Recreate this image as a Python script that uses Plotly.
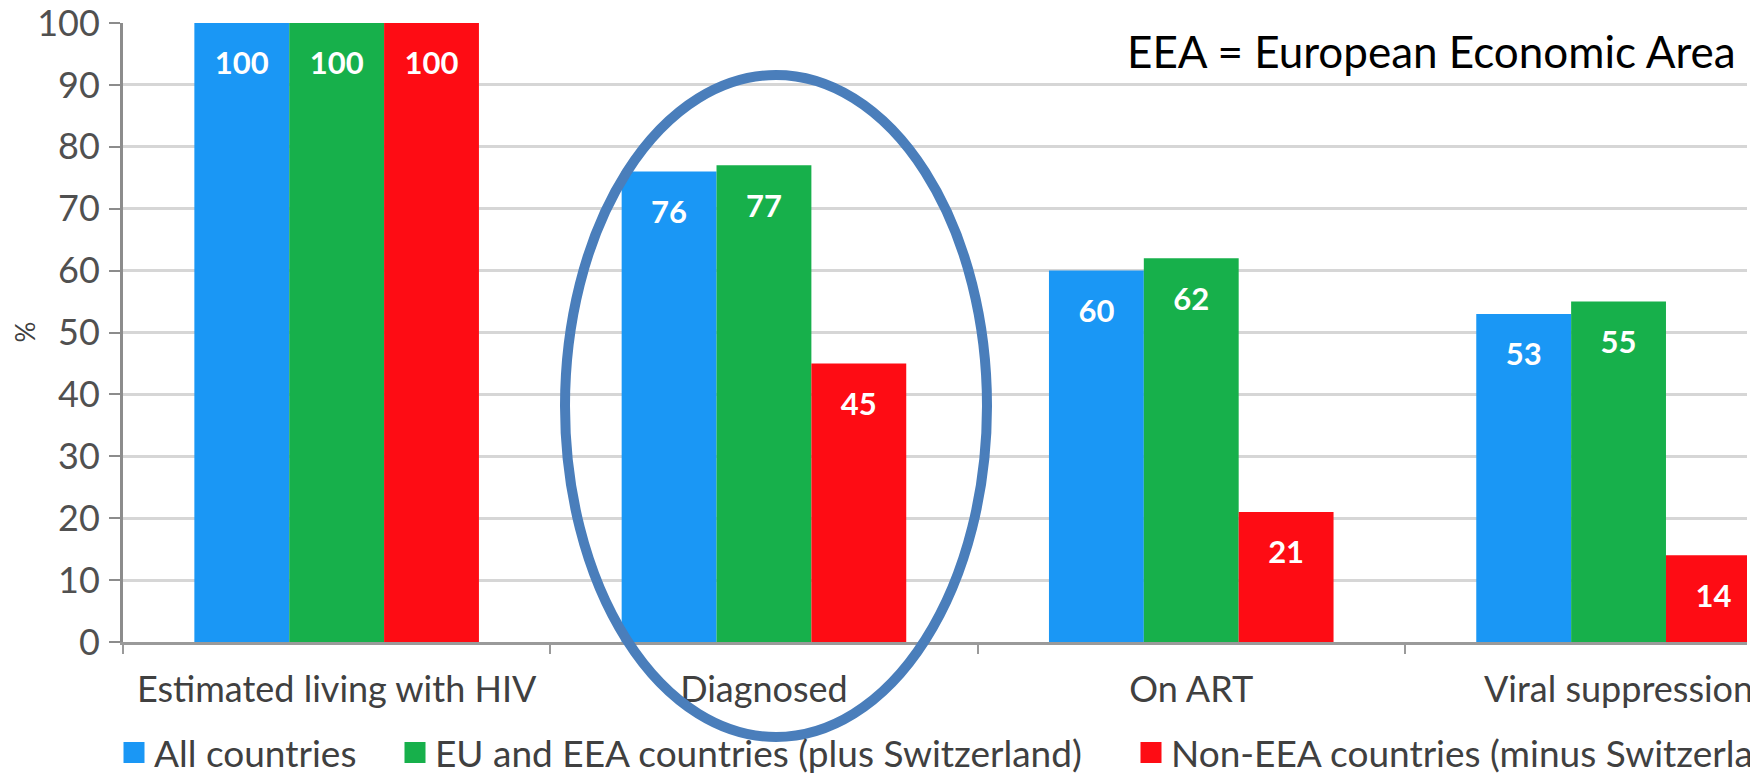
import plotly.graph_objects as go

# ---- data ----
categories = ["Estimated living with HIV", "Diagnosed", "On ART", "Viral suppression"]
all_countries = [100, 76, 60, 53]
eu_eea_countries = [100, 77, 62, 55]
non_eea_countries = [100, 45, 21, 14]
series_names = ["All countries",
                "EU and EEA countries (plus Switzerland)",
                "Non-EEA countries (minus Switzerland)"]
series_values = [all_countries, eu_eea_countries, non_eea_countries]
y_tick_values = [0, 10, 20, 30, 40, 50, 60, 70, 80, 90, 100]
note_text = "EEA = European Economic Area"
axis_title = "%"

# ---- style / geometry (window pixels; page body has an 8px margin) ----
colors = ["#1A97F5", "#17B04B", "#FE0C14"]
FONT = "Lato"
OFF = 8
W, H = 1758, 773
L = 123 - OFF
T = 23 - OFF
B = H - (642 - OFF)
R = W - (1747 - OFF)
PW, PH = W - L - R, H - T - B
STEP = 427.3  # px per category band


def px_x(p):  # window x -> paper
    return (p - OFF - L) / PW


def px_y(p):  # window y -> paper
    return (H - B - (p - OFF)) / PH


fig = go.Figure()
legend_ids = ["legend", "legend2", "legend3"]
for name, vals, col, lg in zip(series_names, series_values, colors, legend_ids):
    fig.add_trace(go.Bar(
        x=categories, y=vals, name=name, showlegend=False,
        marker=dict(color=col, line=dict(width=0)),
        text=vals,
        texttemplate="<span style='font-size:8px'>\u00a0</span><br><b>%{text}</b>",
        textposition="inside", insidetextanchor="end", textangle=0,
        constraintext="none",
        insidetextfont=dict(family=FONT, size=31, color="white"),
    ))
    # legend entry (square swatch)
    fig.add_trace(go.Scatter(
        x=[None], y=[None], mode="markers", name=name, legend=lg,
        marker=dict(symbol="square", size=16, color=col,
                    line=dict(color=col, width=5)),
        showlegend=True, hoverinfo="skip",
    ))

legend_common = dict(orientation="h", xref="container", yref="container",
                     xanchor="left", yanchor="middle",
                     y=(H - (753 - OFF)) / H,
                     bgcolor="rgba(0,0,0,0)", borderwidth=0,
                     font=dict(family=FONT, size=37, color="#404040"))
fig.update_layout(
    showlegend=True,
    legend=dict(x=(133 - OFF - 19) / W, **legend_common),
    legend2=dict(x=(414 - OFF - 19) / W, **legend_common),
    legend3=dict(x=(1150 - OFF - 19) / W, **legend_common),
)

fig.update_layout(
    width=W, height=H,
    margin=dict(l=L, r=R, t=T, b=B, autoexpand=False),
    paper_bgcolor="white", plot_bgcolor="white",
    barmode="group", bargap=0.334, bargroupgap=0,
    font=dict(family=FONT, color="#595959"),
    xaxis=dict(
        range=[-0.5, -0.5 + PW / STEP], type="category",
        categoryorder="array", categoryarray=categories,
        showgrid=False, showline=True, linecolor="#9A9A9A", linewidth=3,
        ticks="outside", tickson="boundaries", ticklen=9, tickwidth=2,
        tickcolor="#9A9A9A", automargin=False, ticklabeloverflow="allow",
        tickfont=dict(family=FONT, size=36, color="#404040"),
        ticklabelstandoff=14,
    ),
    yaxis=dict(
        range=[0, 100], tickvals=y_tick_values,
        showgrid=True, gridcolor="#D6D6D6", gridwidth=2.5,
        showline=True, linecolor="#8C8C8C", linewidth=3,
        ticks="outside", ticklen=11, tickwidth=2, tickcolor="#8C8C8C",
        zeroline=False, automargin=False, ticklabeloverflow="allow",
        tickfont=dict(family=FONT, size=36, color="#505050"),
        ticklabelstandoff=2,
    ),
)

# y-axis title remnant
fig.add_annotation(text=axis_title, textangle=-90, xref="paper", yref="y",
                   x=px_x(24), y=50, xanchor="center", yanchor="middle",
                   showarrow=False,
                   font=dict(family=FONT, size=26, color="#404040"))

# note text
fig.add_annotation(text=note_text, xref="paper", yref="paper",
                   x=px_x(1431), y=px_y(51), xanchor="center", yanchor="middle",
                   showarrow=False,
                   font=dict(family=FONT, size=44, color="black"))

# highlight ellipse around "Diagnosed"
fig.add_shape(type="circle", xref="paper", yref="paper",
              x0=px_x(565), x1=px_x(987), y0=px_y(737), y1=px_y(75),
              line=dict(color="#4A7EBB", width=10), layer="above")

fig.write_html("out.html")
